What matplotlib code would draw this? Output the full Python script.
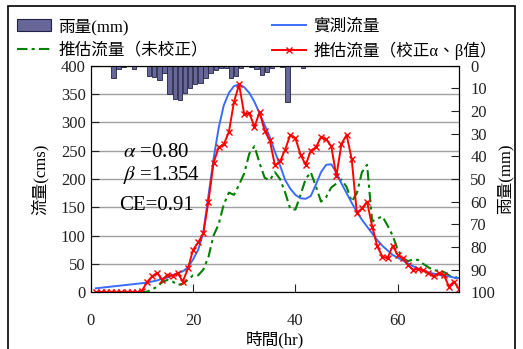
import numpy as np
import matplotlib
matplotlib.use("Agg")
import matplotlib.pyplot as plt
from matplotlib.patches import Rectangle
from matplotlib.lines import Line2D

plt.rcParams['font.family'] = ['Liberation Serif', 'Noto Sans CJK TC']
plt.rcParams['mathtext.fontset'] = 'stix'

# hourly series (cms)
hours = np.arange(1, 73)
observed = [7, 8, 9, 10, 11, 12, 13, 14, 15, 16,
            17, 19, 21, 24, 26, 30, 34, 37, 44, 58,
            75, 105, 170, 235, 290, 330, 352, 364, 367, 362,
            352, 336, 316, 295, 274, 248, 224, 198, 183, 172,
            166, 165, 170, 190, 212, 225, 226, 212, 192, 175,
            158, 142, 128, 116, 104, 92, 82, 74, 66, 61,
            56, 51, 46, 42, 38, 35, 33, 31, 29, 28,
            26, 25]
corrected = [0, 0, 0, 0, 0, 0, 0, 0, 0, 2,
             18, 28, 34, 22, 31, 29, 34, 19, 42, 75,
             88, 104, 160, 228, 256, 261, 283, 336, 367, 314,
             316, 292, 318, 285, 268, 224, 231, 252, 278, 272,
             243, 225, 250, 256, 274, 270, 258, 205, 262, 278,
             235, 140, 148, 160, 116, 81, 63, 60, 82, 66,
             60, 48, 40, 41, 39, 34, 28, 34, 31, 10,
             19, 5]
uncorrected = [0, 0, 0, 0, 0, 0, 0, 0, 0, 0,
               1, 5, 10, 18, 22, 19, 13, 15, 22, 30,
               30, 40, 62, 100, 120, 155, 176, 172, 190, 210,
               245, 258, 228, 202, 198, 212, 200, 176, 147, 146,
               172, 200, 212, 187, 160, 168, 185, 192, 199, 186,
               160, 175, 212, 225, 125, 130, 134, 118, 100, 75,
               60, 55, 58, 57, 50, 44, 39, 38, 36, 30,
               24, 30]

# rainfall (mm) per hour
rain_hours = [5, 6, 7, 9, 12, 13, 14, 15, 16, 17, 18, 19, 20, 21, 22, 23,
              24, 25, 26, 27, 28, 29, 30, 32, 33, 34, 35, 36, 38, 39, 42]
rain_mm = [5.6, 1.5, 0.7, 1.5, 4.4, 5.2, 6.3, 3.4, 12.5, 14.7, 15.2, 12.0,
           10.0, 8.1, 7.5, 5.5, 3.4, 1.9, 1.0, 1.0, 5.6, 4.5, 1.2, 0.4, 1.5,
           4.1, 2.6, 1.2, 0.5, 16.2, 0.8]

fig = plt.figure(figsize=(5.23, 3.49), dpi=100)
ax = fig.add_axes([0.1734, 0.1625, 0.7046, 0.6492])

ax.set_axisbelow(True)
ax.grid(axis='y', color='#a0a0a0', lw=1)
ax.plot(hours, uncorrected, color='#008000', lw=1.5, ls=(0, (5, 2, 1.5, 2)))
ax.plot(hours, observed, color='#3a6cff', lw=1.4)
ax.plot(hours, corrected, color='#ff0000', lw=1.4, marker='x', ms=4, mew=1)

ax.set_xlim(0, 72)
ax.set_ylim(0, 400)
ax.set_xticks([0, 20, 40, 60])
ax.set_yticks(np.arange(0, 401, 50))
ax.tick_params(direction='in', length=6, labelsize=12, colors='#222222')
ax.tick_params(axis='x', pad=15)
ax.set_xlabel('時間(hr)', fontsize=12, labelpad=1)
ax.set_ylabel('流量(cms)', fontsize=12, labelpad=9)

ax2 = ax.twinx()
ax2.bar(np.array(rain_hours) - 1, rain_mm, width=0.85, align='edge',
        color='#666699', edgecolor='#222244', lw=0.6)
ax2.set_ylim(100, 0)
ax2.set_yticks(np.arange(0, 101, 10))
ax2.tick_params(direction='in', length=6, labelsize=12, colors='#222222', pad=8)
ax2.set_ylabel('雨量(mm)', fontsize=12, rotation=90, labelpad=1)

ax.text(0.087, 0.597, r'$\alpha$ =0.80', transform=ax.transAxes, fontsize=15)
ax.text(0.087, 0.496, r'$\beta$ =1.354', transform=ax.transAxes, fontsize=15)
ax.text(0.077, 0.363, 'CE=0.91', transform=ax.transAxes, fontsize=15)

h_rain = Rectangle((0, 0), 1, 1, fc='#666699', ec='#222244', lw=0.8)
h_unc = Line2D([], [], color='#008000', lw=1.5, ls=(0, (5, 2, 1.5, 2)))
h_obs = Line2D([], [], color='#3a6cff', lw=1.4)
h_cor = Line2D([], [], color='#ff0000', lw=1.4, marker='x', ms=4)

leg_kw = dict(loc='upper left', frameon=False, fontsize=12, borderpad=0,
              handlelength=2.0, handletextpad=0.45, labelspacing=0.45)
fig.legend([h_rain, h_unc], ['雨量(mm)', '推估流量（未校正）'],
           bbox_to_anchor=(0.017, 0.971), **leg_kw)
fig.legend([h_obs, h_cor], ['實測流量', '推估流量（校正α、β值）'],
           bbox_to_anchor=(0.505, 0.971), **leg_kw)

fig.patches.append(Rectangle((8 / 523, -0.05), 507 / 523, 1 - 6 / 349 + 0.05,
                             transform=fig.transFigure, fill=False,
                             ec='black', lw=1.2))

fig.savefig('out.png', dpi=100)
